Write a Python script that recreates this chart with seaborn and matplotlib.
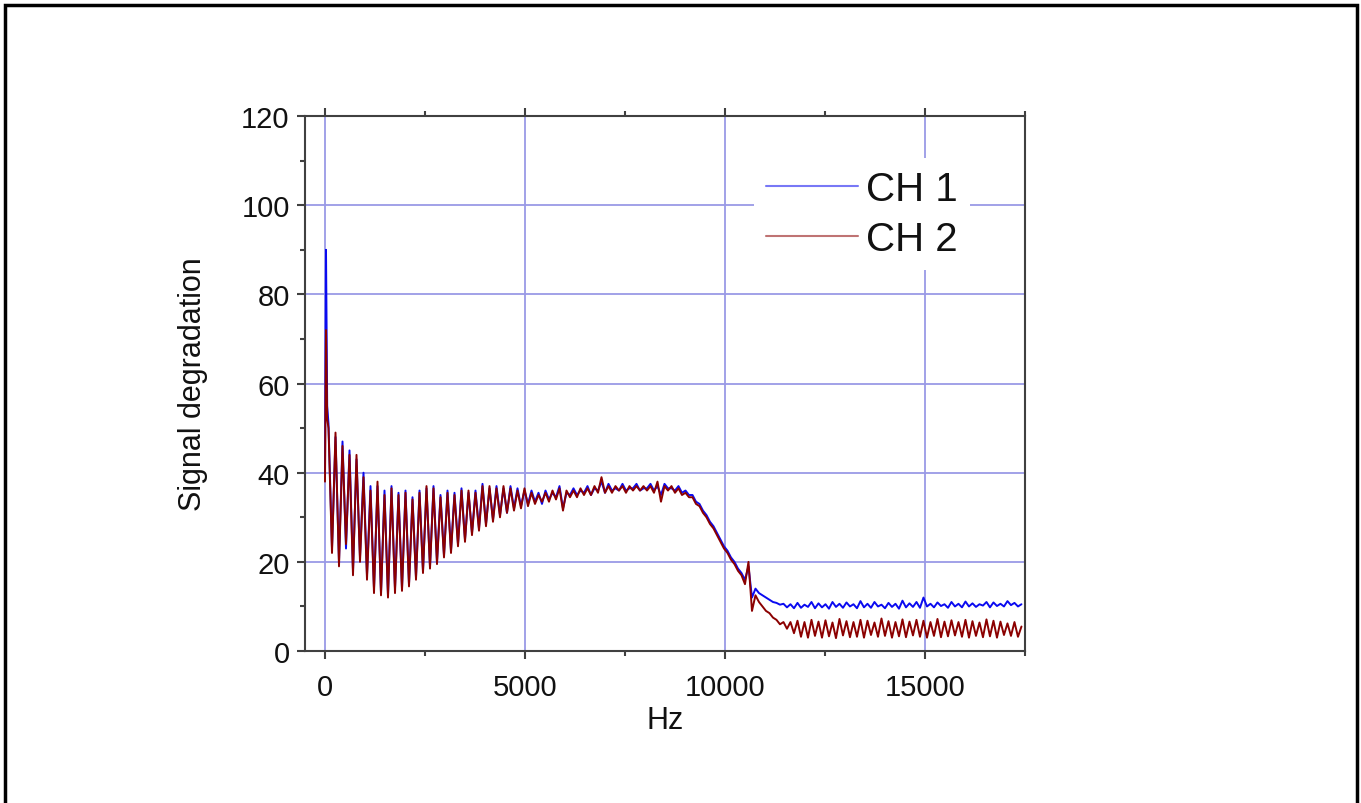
import numpy as np
import pandas as pd
import matplotlib
matplotlib.use("Agg")
import matplotlib.pyplot as plt
import seaborn as sns
from matplotlib.patches import Rectangle
from matplotlib.ticker import MultipleLocator

# Spectrum: a short onset spike, then one sample every 87.5 Hz

hz_onset = [0, 25, 55]
hz_grid = list(np.arange(87.5, 17500, 87.5))
hz = hz_onset + hz_grid

ch1_onset = [40, 90, 55]
ch2_onset = [38, 72, 52]

ch1_grid = [
    51, 23, 48, 20, 47, 23, 45, 18, 43, 21, 40, 17, 37, 14, 37, 13, 36, 12.5, 37, 14,
    35.5, 14, 36, 15, 34.5, 16.5, 36, 18, 36.5, 19, 37, 20, 35, 21.5, 36, 22.5, 35.5, 24, 36.5, 25,
    35.5, 26.5, 36, 27.5, 37.5, 28.5, 36.5, 29.5, 37, 30.5, 36.5, 31, 37, 32, 36.5, 32.5, 36, 33, 36, 33.5,
    35.5, 33, 36, 34, 35.5, 34.5, 37, 32, 35.5, 35, 36.5, 35, 36, 35.5, 37, 35, 36.5, 36, 38, 35.5,
    37.5, 36, 36.5, 36, 37.5, 36, 36.5, 36.5, 37.5, 36, 36.5, 36.5, 37.5, 36, 37, 35, 37.5, 36.5, 36.5, 36,
    37, 35.5, 36, 35, 35, 33.5, 33, 31.5, 30.5, 29, 28, 26.5, 25, 23.5, 22.5, 21, 20, 18.5, 17.5, 16,
    19, 12, 14, 13, 12.5, 12, 11.5, 11, 10.8, 10.4, 10.6, 9.8, 10.5, 9.6, 10.8, 9.7, 10.4, 9.9, 11, 9.6,
    10.7, 9.8, 10.5, 9.5, 11, 9.9, 10.6, 9.7, 10.9, 10, 10.5, 9.6, 11.2, 9.8, 10.6, 9.7, 11, 10, 10.4, 9.6,
    10.8, 9.9, 10.6, 9.5, 11.3, 9.8, 10.7, 9.9, 11, 9.7, 12, 10, 10.6, 9.8, 10.9, 10.1, 10.5, 9.7, 11, 10,
    10.6, 9.8, 11.1, 10, 10.7, 9.9, 10.5, 10.2, 11, 9.8, 10.9, 10.1, 10.6, 10, 11.2, 10.3, 10.8, 10, 10.5,
]

ch2_grid = [
    50, 22, 49, 19, 46, 24, 44, 17, 44, 20, 39, 16, 36, 13, 38, 12.5, 35, 12, 36.5, 13,
    35, 13.5, 35.5, 14.5, 34, 16, 35.5, 17.5, 37, 18.5, 36.5, 19.5, 34.5, 21, 35.5, 22, 35, 23.5, 36, 24.5,
    36, 26, 35.5, 27, 37, 28, 37, 29, 36.5, 30, 37, 31, 36.5, 31.5, 36, 32, 36.5, 32.5, 35.5, 33,
    35, 33.5, 35.5, 33.5, 36, 34, 36.5, 31.5, 36, 34.5, 36, 34.5, 36.5, 35, 36.5, 35, 37, 35.5, 39, 35.5,
    37, 35.5, 37, 36, 37, 35.5, 37, 36, 37, 36, 37, 36, 37, 35.5, 38, 33.5, 37, 36, 37, 35.5,
    36.5, 35, 35.5, 34.5, 34.5, 33, 32.5, 31, 30, 28.5, 27.5, 26, 24.5, 23, 22, 20.5, 19.5, 18, 17, 15,
    20, 9, 12.5, 11, 10, 9, 8.5, 7.5, 7, 6, 6.5, 5, 6.5, 4, 6.8, 3.2, 6.5, 3, 7, 3.4,
    6.6, 3, 6.9, 3.3, 6.4, 2.9, 7.2, 3.5, 6.7, 3.1, 6.5, 3.2, 7, 3, 6.8, 3.6, 6.4, 3.2, 7.3, 3.4,
    6.7, 3, 6.5, 3.3, 7.1, 3.1, 6.6, 3.5, 7, 3.2, 6.8, 3, 6.5, 3.4, 7.2, 3.1, 6.6, 3.3, 6.9, 3.5,
    6.5, 3.2, 7, 3, 6.7, 3.4, 6.4, 3.1, 7.1, 3.3, 6.8, 3, 6.6, 3.6, 6.2, 3.4, 6.5, 3.2, 5.5,
]

ch1 = ch1_onset + ch1_grid
ch2 = ch2_onset + ch2_grid

channels = ['CH 1', 'CH 2']
colors = {'CH 1': '#0a0af0', 'CH 2': '#8b0000'}

df = pd.DataFrame({
    'Hz': hz + hz,
    'value': ch1 + ch2,
    'channel': [channels[0]] * len(hz) + [channels[1]] * len(hz),
})

#%%

sns.set_style("white")
plt.rcParams['font.family'] = ['Liberation Sans', 'DejaVu Sans']
plt.rcParams['text.color'] = '#111111'
plt.rcParams['axes.labelcolor'] = '#111111'
plt.rcParams['xtick.labelcolor'] = '#111111'
plt.rcParams['ytick.labelcolor'] = '#111111'

fig = plt.figure(figsize=(13.61, 8.04), dpi=100)
ax = fig.add_axes([0.2241, 0.189, 0.529, 0.6654])

sns.lineplot(data=df, x='Hz', y='value', hue='channel', palette=colors,
             estimator=None, sort=False, linewidth=1.4, ax=ax, zorder=3)

ax.set_xlim(-500, 17500)
ax.set_ylim(0, 120)
ax.xaxis.set_major_locator(MultipleLocator(5000))
ax.xaxis.set_minor_locator(MultipleLocator(2500))
ax.yaxis.set_major_locator(MultipleLocator(20))
ax.yaxis.set_minor_locator(MultipleLocator(10))

ax.grid(True, which='major', color='#9a9ae6', linewidth=1.3)
ax.set_axisbelow(True)

for side in ['left', 'bottom', 'top', 'right']:
    ax.spines[side].set_color('#404040')
    ax.spines[side].set_linewidth(1.5)

ax.tick_params(which='both', direction='out', color='#404040', width=1.5,
               top=True, bottom=True, left=True, right=False)
ax.tick_params(which='major', length=6, labelsize=21, pad=5)
ax.tick_params(which='minor', length=3.5)
ax.tick_params(axis='x', which='major', pad=10)

ax.set_xlabel('Hz', fontsize=22, labelpad=3)
ax.set_ylabel('Signal degradation', fontsize=22, labelpad=24)

handles, labels = ax.get_legend_handles_labels()
leg = ax.legend(handles, labels, loc='upper left', bbox_to_anchor=(0.595, 0.96),
                fontsize=29, frameon=True, facecolor='white', edgecolor='none',
                framealpha=1, fancybox=False, handlelength=2.3, handletextpad=0.2,
                labelspacing=0.3, borderpad=0.3)
for line in leg.get_lines():
    line.set_linewidth(1.5)
    line.set_alpha(0.55)

# border round the whole figure
fig.patches.append(Rectangle((4.5 / 1361, -0.01), 1352 / 1361, 1.01 - 5.5 / 804,
                             transform=fig.transFigure, fill=False,
                             edgecolor='black', linewidth=2.5))

fig.savefig('out.png', dpi=100)
